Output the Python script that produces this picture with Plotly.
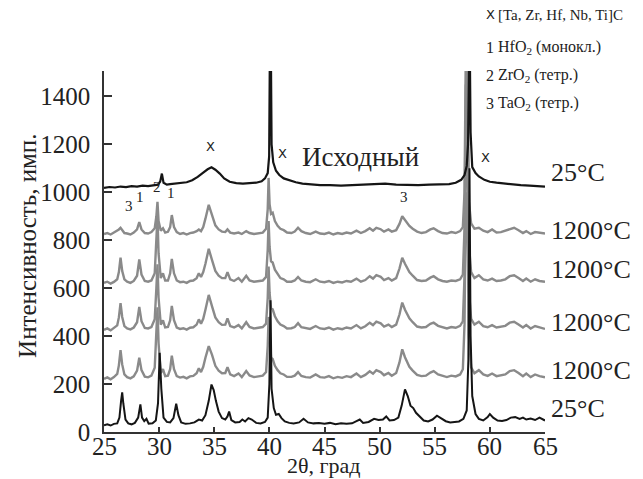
import plotly.graph_objects as go

# ---------------- data ----------------
# top curve: initial sample, 25 °C
x_top = [25.0, 25.5, 26.0, 26.5, 27.0, 27.5, 28.0, 28.5, 29.0, 29.5, 29.9, 30.1, 30.25, 30.4, 30.7,
         31.0, 31.5, 32.0, 32.5, 33.0, 33.5, 34.0, 34.4, 34.75, 35.1, 35.5, 35.9, 36.4, 37.0, 37.6,
         38.2, 38.8, 39.3, 39.6, 39.85, 39.98, 40.06, 40.12, 40.2, 40.35, 40.6, 40.9, 41.3, 41.8, 42.4,
         43.0, 43.8, 44.6, 45.5, 46.5, 47.5, 48.5, 49.5, 50.5, 51.5, 52.5, 53.5, 54.5, 55.5, 56.3,
         56.9, 57.4, 57.7, 57.9, 58.02, 58.1, 58.16, 58.25, 58.4, 58.7, 59.0, 59.5, 60.0, 60.6, 61.3,
         62.0, 62.8, 63.6, 64.3, 65.0]
y_top = [1018, 1022, 1020, 1024, 1022, 1026, 1024, 1028, 1026, 1030, 1032, 1045, 1078, 1040, 1032,
         1034, 1036, 1038, 1042, 1050, 1064, 1082, 1096, 1104, 1094, 1078, 1058, 1044, 1038, 1036,
         1038, 1040, 1046, 1058, 1080, 1150, 1700, 1700, 1200, 1125, 1090, 1072, 1058, 1050, 1042,
         1036, 1032, 1030, 1030, 1028, 1030, 1032, 1032, 1036, 1032, 1030, 1030, 1032, 1032, 1034,
         1040, 1052, 1072, 1110, 1200, 1700, 1700, 1250, 1105, 1080, 1066, 1052, 1044, 1040, 1036,
         1034, 1030, 1028, 1026, 1024]

# common 2θ grid of the four 1200 °C curves
x_1200 = [25.0, 25.3, 25.6, 25.9, 26.2, 26.35, 26.5, 26.65, 26.85, 27.1, 27.4, 27.7, 28.0, 28.2, 28.4,
          28.7, 29.0, 29.3, 29.6, 29.75, 29.85, 29.95, 30.15, 30.35, 30.55, 30.8, 31.0, 31.15, 31.35, 31.6,
          31.9, 32.2, 32.5, 32.8, 33.1, 33.4, 33.6, 33.8, 34.0, 34.2, 34.5, 34.8, 35.1, 35.4, 35.7,
          36.0, 36.2, 36.45, 36.8, 37.2, 37.5, 37.9, 38.2, 38.6, 39.0, 39.4, 39.7, 39.85, 39.93, 40.02,
          40.15, 40.3, 40.5, 40.75, 41.0, 41.3, 41.6, 42.0, 42.3, 42.6, 42.9, 43.3, 43.7, 44.2, 44.6,
          45.0, 45.4, 45.8, 46.2, 46.6, 47.0, 47.4, 47.9, 48.3, 48.7, 49.1, 49.4, 49.7, 50.1, 50.4,
          50.8, 51.1, 51.5, 51.8, 52.05, 52.3, 52.7, 53.0, 53.4, 53.8, 54.2, 54.6, 54.9, 55.3, 55.7,
          56.1, 56.5, 56.9, 57.3, 57.55, 57.7, 57.82, 57.95, 58.1, 58.3, 58.6, 59.0, 59.4, 59.8, 60.2,
          60.6, 61.0, 61.4, 61.8, 62.2, 62.6, 63.0, 63.3, 63.7, 64.1, 64.5, 65.0]

y_1200_a = [826, 830, 824, 832, 838, 845, 852, 840, 830, 828, 824, 832, 845, 876, 845,
            830, 828, 834, 850, 900, 960, 880, 840, 850, 832, 835, 855, 905, 855, 834,
            826, 830, 824, 830, 832, 838, 845, 838, 855, 890, 948, 905, 862, 845, 836,
            834, 845, 832, 828, 832, 826, 838, 830, 826, 830, 832, 848, 930, 1060, 950,
            910, 915, 880, 860, 848, 842, 832, 830, 836, 852, 838, 830, 826, 836, 828,
            826, 832, 824, 830, 826, 832, 828, 840, 830, 838, 850, 840, 852, 846, 836,
            845, 836, 842, 868, 900, 885, 860, 848, 836, 830, 834, 845, 850, 838, 830,
            828, 834, 830, 838, 855, 1000, 1600, 1600, 960, 870, 848, 852, 840, 834, 845,
            832, 834, 840, 848, 852, 842, 830, 838, 826, 834, 830, 828]

y_1200_b = [622, 627, 619, 626, 637, 667, 727, 672, 637, 627, 622, 630, 652, 720, 657,
            630, 627, 632, 662, 790, 900, 745, 642, 662, 632, 632, 662, 722, 662, 632,
            625, 627, 622, 630, 632, 642, 662, 647, 667, 702, 764, 717, 672, 652, 642,
            642, 667, 637, 630, 642, 627, 652, 632, 627, 630, 632, 647, 760, 880, 772,
            712, 707, 677, 657, 642, 637, 627, 627, 632, 647, 632, 627, 625, 637, 627,
            625, 630, 622, 627, 624, 630, 627, 640, 627, 634, 650, 640, 654, 647, 634,
            642, 632, 642, 682, 727, 702, 667, 652, 634, 630, 632, 644, 650, 637, 630,
            627, 632, 630, 637, 657, 850, 1450, 1400, 780, 667, 642, 654, 637, 632, 640,
            630, 632, 637, 650, 654, 642, 630, 640, 627, 637, 630, 627]

y_1200_c = [426, 432, 424, 433, 445, 478, 538, 480, 442, 432, 428, 436, 458, 522, 462,
            434, 432, 438, 470, 600, 700, 560, 448, 466, 436, 438, 466, 526, 466, 436,
            430, 433, 427, 435, 437, 448, 470, 452, 472, 510, 572, 524, 478, 458, 447,
            448, 474, 442, 436, 446, 432, 458, 438, 432, 436, 438, 452, 560, 690, 580,
            516, 512, 483, 462, 448, 442, 432, 433, 438, 454, 437, 432, 430, 442, 432,
            430, 436, 427, 433, 429, 436, 432, 446, 432, 441, 456, 446, 460, 453, 440,
            448, 438, 448, 490, 540, 510, 474, 458, 440, 436, 438, 451, 456, 443, 436,
            432, 438, 435, 443, 462, 650, 1250, 1200, 590, 472, 448, 460, 442, 437, 446,
            436, 438, 443, 456, 460, 448, 436, 446, 432, 442, 436, 430]

y_1200_d = [222, 228, 220, 229, 242, 278, 342, 282, 240, 229, 224, 232, 256, 310, 258,
            231, 228, 235, 268, 400, 520, 370, 246, 262, 233, 235, 262, 318, 262, 233,
            227, 230, 224, 232, 234, 245, 266, 250, 272, 310, 358, 322, 276, 256, 245,
            246, 270, 240, 233, 244, 229, 254, 236, 229, 233, 235, 250, 360, 480, 380,
            310, 305, 276, 258, 245, 240, 230, 230, 235, 250, 234, 229, 227, 240, 229,
            227, 233, 224, 230, 226, 233, 229, 244, 229, 238, 253, 243, 258, 250, 237,
            246, 235, 246, 290, 345, 312, 272, 256, 238, 233, 235, 248, 254, 240, 233,
            229, 235, 232, 240, 262, 450, 1000, 950, 400, 270, 245, 258, 240, 234, 244,
            233, 235, 240, 254, 258, 246, 233, 244, 229, 240, 233, 228]

# bottom curve: 25 °C
x_bot = [25.0, 25.3, 25.6, 25.9, 26.2, 26.4, 26.55, 26.65, 26.75, 26.95, 27.2, 27.5, 27.8, 28.1, 28.3,
         28.45, 28.65, 28.85, 29.05, 29.4, 29.7, 29.9, 30.05, 30.2, 30.4, 30.7, 31.0, 31.3, 31.55, 31.75,
         32.0, 32.4, 32.8, 33.2, 33.6, 33.9, 34.2, 34.5, 34.75, 34.95, 35.15, 35.4, 35.7, 36.0, 36.2,
         36.35, 36.55, 36.9, 37.3, 37.55, 37.8, 38.1, 38.4, 38.8, 39.2, 39.6, 39.85, 40.0, 40.1, 40.2,
         40.4, 40.6, 40.85, 41.1, 41.4, 41.8, 42.2, 42.7, 43.1, 43.5, 44.0, 44.5, 45.0, 45.5, 46.0,
         46.5, 47.0, 47.5, 47.9, 48.2, 48.5, 49.0, 49.5, 49.9, 50.3, 50.6, 50.9, 51.3, 51.7, 52.0,
         52.3, 52.55, 52.8, 53.05, 53.3, 53.6, 54.0, 54.4, 54.8, 55.2, 55.6, 56.0, 56.4, 56.8, 57.2,
         57.6, 57.9, 58.05, 58.15, 58.25, 58.4, 58.7, 59.0, 59.4, 59.8, 60.0, 60.3, 60.7, 61.1, 61.5,
         61.9, 62.3, 62.7, 63.0, 63.3, 63.7, 64.1, 64.5, 64.8, 65.0]
y_bot = [28, 32, 27, 34, 36, 60, 130, 165, 120, 52, 36, 32, 38, 60, 115,
         60, 45, 55, 35, 36, 48, 120, 330, 180, 60, 42, 40, 58, 118, 70,
         40, 34, 36, 40, 52, 48, 70, 130, 198, 175, 130, 85, 58, 52, 65,
         85, 50, 40, 42, 52, 44, 58, 52, 38, 36, 42, 60, 200, 550, 180,
         100, 72, 75, 58, 44, 38, 36, 40, 55, 40, 36, 38, 34, 38, 32,
         36, 34, 36, 45, 52, 38, 42, 55, 50, 52, 65, 48, 50, 60, 110,
         178, 150, 110, 100, 80, 68, 48, 44, 52, 68, 55, 45, 40, 42, 44,
         55, 90, 300, 1100, 400, 150, 75, 55, 48, 62, 75, 60, 48, 46, 50,
         60, 62, 55, 60, 52, 56, 50, 60, 52, 48]

curve_labels = ["25°C", "1200°C", "1200°C", "1200°C", "1200°C", "25°C"]
curve_label_y = [1082, 840, 677, 456, 255, 97]

x_ticks = [25, 30, 35, 40, 45, 50, 55, 60, 65]
x_tick_text = ["25", "30", "35", "40", "45", "50", "55", "60", "65"]
y_ticks = [0, 200, 400, 600, 800, 1000, 1200, 1400]

phase_marks = ["X", "X", "X", "3", "1", "2", "1", "3"]
phase_x = [34.65, 41.2, 59.6, 27.25, 28.3, 29.85, 31.1, 52.2]
phase_y = [1190, 1160, 1146, 944, 979, 1023, 996, 982]

legend_keys = ["X", "1", "2", "3"]
legend_texts = ["[Ta, Zr, Hf, Nb, Ti]C", "HfO<sub>2</sub> (монокл.)",
                "ZrO<sub>2</sub> (тетр.)", "TaO<sub>2</sub> (тетр.)"]

# ---------------- figure ----------------
GRAY = "#8a8a8a"
BLACK = "#151515"
SERIF = "Liberation Serif, Times New Roman, serif"

fig = go.Figure()
for yy in [y_1200_a, y_1200_b, y_1200_c, y_1200_d]:
    fig.add_trace(go.Scatter(x=x_1200, y=yy, mode="lines",
                             line=dict(color=GRAY, width=2.4), showlegend=False, hoverinfo="skip"))
fig.add_trace(go.Scatter(x=x_bot, y=y_bot, mode="lines",
                         line=dict(color=BLACK, width=2), showlegend=False, hoverinfo="skip"))
fig.add_trace(go.Scatter(x=x_top, y=y_top, mode="lines",
                         line=dict(color=BLACK, width=2.2), showlegend=False, hoverinfo="skip"))

ann = []
for t, yv in zip(curve_labels, curve_label_y):
    ann.append(dict(x=1.009, xref="paper", y=yv, yref="y", text=t, showarrow=False,
                    xanchor="left", yanchor="middle", font=dict(family=SERIF, size=26, color="#222")))
for t, xv, yv in zip(phase_marks, phase_x, phase_y):
    if t == "X":
        f = dict(family="DejaVu Sans, sans-serif", size=13, color="#222")
    else:
        f = dict(family=SERIF, size=15, color="#222")
    ann.append(dict(x=xv, y=yv, xref="x", yref="y", text=t, showarrow=False,
                    xanchor="center", yanchor="middle", font=f))
ann.append(dict(x=48.3, y=1146, xref="x", yref="y", text="Исходный", showarrow=False,
                xanchor="center", yanchor="middle", font=dict(family=SERIF, size=27, color="#222")))

leg_y = [1.156, 1.064, 0.987, 0.909]
leg_size = [15, 16, 16, 16]
for k, t, yv, fs in zip(legend_keys, legend_texts, leg_y, leg_size):
    kf = dict(family="DejaVu Sans, sans-serif", size=13, color="#222") if k == "X" else dict(family=SERIF, size=16, color="#222")
    ann.append(dict(x=0.876, y=yv, xref="paper", yref="paper", text=k, showarrow=False,
                    xanchor="center", yanchor="middle", font=kf))
    ann.append(dict(x=0.890, y=yv, xref="paper", yref="paper", text=t, showarrow=False,
                    xanchor="left", yanchor="middle", font=dict(family=SERIF, size=fs, color="#222")))

# x tick labels
for xv, t in zip(x_ticks, x_tick_text):
    ann.append(dict(x=xv, y=-0.04, xref="x", yref="paper", text=t, showarrow=False,
                    xanchor="center", yanchor="middle", font=dict(family=SERIF, size=25, color="#222")))

# axis titles
ann.append(dict(x=-0.175, y=0.515, xref="paper", yref="paper", text="Интенсивность, имп.",
                textangle=-90, showarrow=False, xanchor="center", yanchor="middle",
                font=dict(family=SERIF, size=25, color="#222")))
ann.append(dict(x=0.499, y=-0.093, xref="paper", yref="paper", text="2θ, град",
                showarrow=False, xanchor="center", yanchor="middle",
                font=dict(family=SERIF, size=22, color="#222")))

fig.update_layout(
    width=643, height=479,
    margin=dict(l=96, r=106, t=63, b=55),
    paper_bgcolor="white", plot_bgcolor="white",
    annotations=ann,
    xaxis=dict(range=[25, 65], tickvals=x_ticks, ticks="inside", ticklen=5, tickwidth=1.5,
               tickcolor="#333", showline=True, linecolor="#333", linewidth=1.5,
               showgrid=False, zeroline=False, showticklabels=False),
    yaxis=dict(range=[0, 1506], tickvals=y_ticks, ticks="inside", ticklen=8, tickwidth=1.5,
               tickcolor="#333", showline=True, linecolor="#333", linewidth=1.5,
               showgrid=False, zeroline=False, ticklabelstandoff=7,
               tickfont=dict(family=SERIF, size=25, color="#222")),
)

fig.write_html("out.html")
